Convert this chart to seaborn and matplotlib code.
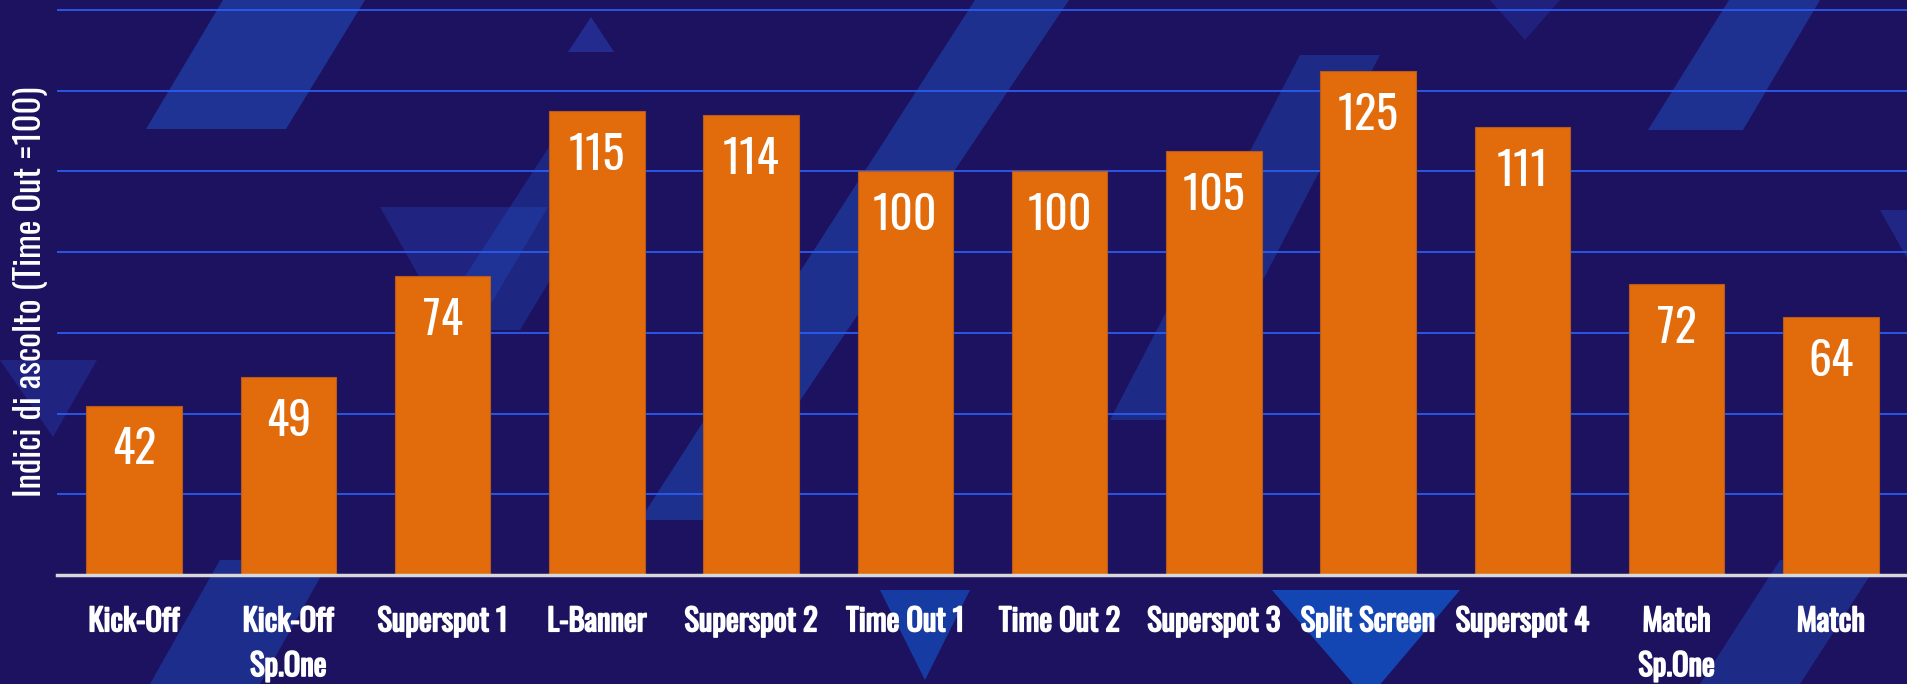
import matplotlib
matplotlib.use('Agg')
import matplotlib.pyplot as plt
from matplotlib import font_manager
from matplotlib.patches import Polygon
import matplotlib.patheffects as pe
import seaborn as sns
import pandas as pd

# ─── Data ─────────────────────────────────────────────────────────────────────
categories = ["Kick-Off", "Kick-Off\nSp.One", "Superspot 1", "L-Banner", "Superspot 2",
              "Time Out 1", "Time Out 2", "Superspot 3", "Split Screen", "Superspot 4",
              "Match\nSp.One", "Match"]
indici = [42, 49, 74, 115, 114, 100, 100, 105, 125, 111, 72, 64]
y_label = "Indici di ascolto (Time Out =100)"

# ─── Style ────────────────────────────────────────────────────────────────────
BG = '#1d1260'
BAR = '#e26b0c'
GRID = '#2a5cf0'

sns.set_style('white')
fonts = font_manager.fontManager.ttflist
installed = {f.name for f in fonts}
FONT = 'DejaVu Sans'
for cand in ['Oswald', 'Roboto Condensed', 'Liberation Sans Narrow']:
    if cand in installed:
        FONT = cand
        break
plt.rcParams['font.family'] = [FONT, 'DejaVu Sans']
weights = {f.weight for f in fonts if f.name == FONT}
has_bold = any(isinstance(w, int) and w >= 600 for w in weights) or 'bold' in weights

W, H = 1908, 684
fig = plt.figure(figsize=(W / 100, H / 100), dpi=100, facecolor=BG)

# background decoration (figure pixel coords)
shapes = [
    ([(146, 129), (286, 129), (365, 0), (223, 0)], '#1f4fc0', 0.55),
    ([(568, 52), (614, 52), (591, 17)], '#2a3cb0', 0.6),
    ([(380, 207), (548, 207), (462, 353)], '#2538a8', 0.45),
    ([(430, 330), (520, 330), (640, 130), (560, 130)], '#1f4fc0', 0.35),
    ([(0, 360), (97, 360), (53, 437)], '#2538a8', 0.45),
    ([(640, 520), (720, 520), (1069, 0), (975, 0)], '#1f55c8', 0.45),
    ([(1648, 130), (1743, 130), (1820, 0), (1729, 0)], '#1f4fc0', 0.5),
    ([(1110, 420), (1190, 420), (1380, 55), (1300, 55)], '#1f4fc0', 0.4),
    ([(1272, 590), (1460, 590), (1367, 700)], '#1258d0', 0.75),
    ([(880, 590), (970, 590), (925, 680)], '#1258d0', 0.6),
    ([(150, 684), (260, 684), (330, 560), (220, 560)], '#1f4fc0', 0.45),
    ([(1700, 684), (1800, 684), (1880, 560), (1780, 560)], '#1f4fc0', 0.4),
    ([(1880, 210), (1908, 210), (1908, 260)], '#2538a8', 0.5),
    ([(1490, 0), (1560, 0), (1525, 40)], '#2538a8', 0.4),
]
for pts, col, a in shapes:
    fig.patches.append(Polygon([(x / W, 1 - y / H) for x, y in pts], closed=True,
                               transform=fig.transFigure, facecolor=col, alpha=a,
                               edgecolor='none', zorder=-5))

ax = fig.add_axes([57 / W, 1 - 575 / H, 1 - 57 / W, 575 / H])
ax.set_facecolor('none')
ax.set_zorder(2)

df = pd.DataFrame({'cat': categories, 'val': indici})
sns.barplot(data=df, x='cat', y='val', color=BAR, saturation=1, width=0.62, ax=ax,
            edgecolor='#b85a1a', linewidth=0.8, zorder=3)

ax.set_ylim(0, 142.5)
ax.set_xlim(-0.5, 11.5)
ax.set_yticks(range(20, 141, 20))
ax.yaxis.grid(True, color=GRID, linewidth=1.3, zorder=1)
ax.set_axisbelow(True)
ax.tick_params(axis='y', left=False, labelleft=False)
ax.tick_params(axis='x', bottom=False, pad=19)
for s in ['top', 'right', 'left']:
    ax.spines[s].set_visible(False)
ax.spines['bottom'].set_color('#d8d8d8')
ax.spines['bottom'].set_linewidth(2.5)
ax.spines['bottom'].set_zorder(4)

ax.set_xlabel('')
ax.set_ylabel('')
for lbl in ax.get_xticklabels():
    lbl.set_color('white')
    lbl.set_fontsize(22)
    lbl.set_fontweight('bold')
    lbl.set_va('top')
    lbl.set_linespacing(1.55)
    if not has_bold:
        lbl.set_path_effects([pe.withStroke(linewidth=1.2, foreground='white')])

for i, v in enumerate(indici):
    ax.text(i, v - 11, str(v), ha='center', va='center', color='white',
            fontsize=33, fontweight=300, zorder=5)

fig.text(31 / W, 1 - 292 / H, y_label, rotation=90, ha='center', va='center',
         color='white', fontsize=25, fontweight=300)

plt.savefig('out.png', dpi=100, facecolor=BG)
plt.close()
